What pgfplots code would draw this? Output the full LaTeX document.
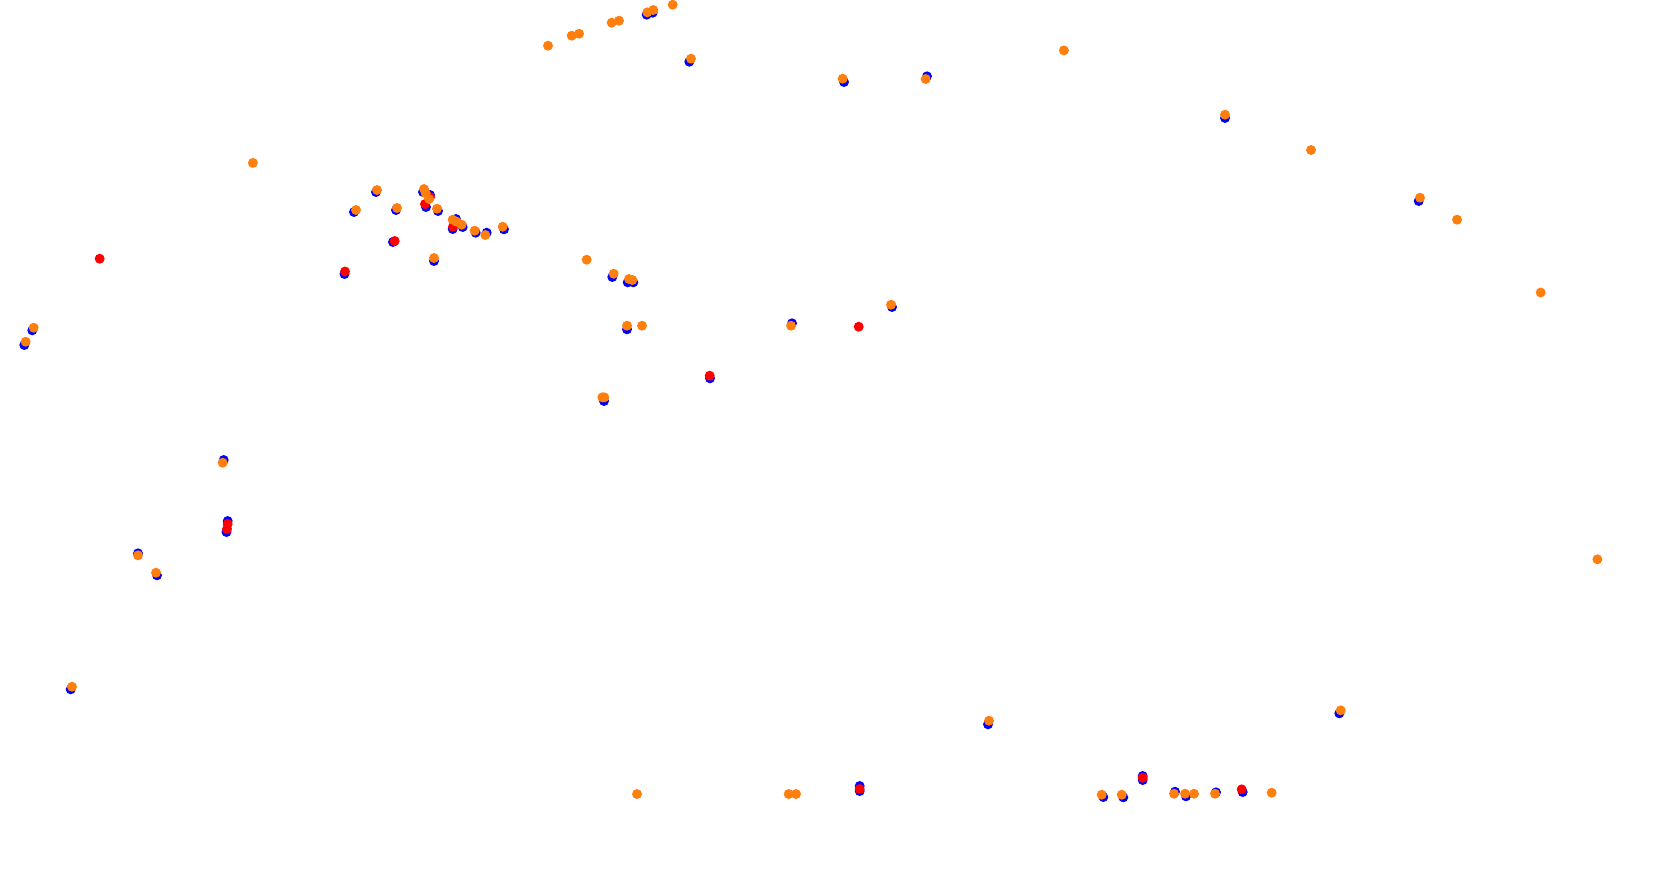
\documentclass[border=0pt]{standalone}
\usepackage{pgfplots}
\pgfplotsset{compat=1.18}
\definecolor{cblue}{RGB}{0,0,255}
\definecolor{cred}{RGB}{255,0,0}
\definecolor{corange}{RGB}{255,127,14}
\begin{document}
\begin{tikzpicture}
\begin{axis}[
  width=16.8cm, height=8.73cm, scale only axis,
  axis lines=none,
  xmin=0, xmax=1680, ymin=0, ymax=873,
  y dir=reverse,
  clip=true, clip marker paths=true,
  enlargelimits=false,
]
\addplot[only marks, mark=*, mark size=1.2pt, color=cblue, mark options={draw=none, fill=cblue}] coordinates {
(376,192) (354,212) (396,210) (430,195) (423,192) (426,207) (438,211) (393,242) (434,261)
(456,219) (452.7,229) (462.7,227) (475.7,232.7) (486.7,232.7) (504,229.3) (344.5,274)
(646.7,14.7) (652.7,12.7) (689.3,61.7)
(1103.3,797) (1123.3,797.3) (1142.7,776) (1142.7,780) (1175,791.7) (1186,796.3) (1216,792.3) (1242.7,792)
(32.3,330.3) (24.3,345)
(223.7,460) (227.7,521) (226.5,532)
(612.3,277) (627.7,282.3) (633.3,282.3) (627,329.3) (710,378.3) (604,401)
(844,82) (927,76.3) (892,307) (792,323.3)
(1225,118) (1418.7,201)
(138,553.3) (157,575.3) (70.7,689.3)
(859.7,786) (859.7,791)
(988,724.3) (1339.3,713.3)
};
\addplot[only marks, mark=*, mark size=1.2pt, color=cred, mark options={draw=none, fill=cred}] coordinates {
(430,197) (425,204) (394.7,241) (453,226.7) (345,271.5) (99.7,258.7)
(1142.7,777.7) (1241.7,789.3) (227.7,524) (227,529) (709.7,375.7) (858.7,326.7) (859.7,789)
};
\addplot[only marks, mark=*, mark size=1.2pt, color=corange, mark options={draw=none, fill=corange}] coordinates {
(377,190) (356,210) (397,208) (424,189) (425.7,193.3) (429,199) (437,208.7) (434,258)
(452.7,219.7) (456.7,221.7) (461.7,224.7) (474.7,230.7) (485.3,235) (502.7,226.7)
(548,45.7) (571.7,35.7) (579,33.7) (611.7,22.7) (619,20.7) (647.3,12.3) (653.3,10) (672.7,4.7) (691,58.7)
(1101.7,794.7) (1121.7,794.7) (1174,793.7) (1185,793.7) (1194,793.7) (1215,793.7) (1271.7,792.7)
(33.7,327.7) (25.7,341.7)
(222.7,462.7)
(586.7,259.7) (613.7,273.7) (629,279) (632.3,280) (627,325.7) (642,325.7) (602.3,397.3) (604.3,397.3)
(842.7,78.7) (925.7,79) (891,304.7) (791,325.7)
(1225,114.7) (1311,150) (1420,197.7) (1457,219.7)
(138,555.3) (156,572.7) (72,686.7)
(637,794) (788.7,794) (796,794)
(989,720.7) (1340.7,710.3)
(252.9,162.9) (1063.9,50.4) (1540.7,292.5) (1597.4,559.3)
};
\end{axis}
\path (current axis.south west) rectangle (current axis.north east);
\end{tikzpicture}
\end{document}
